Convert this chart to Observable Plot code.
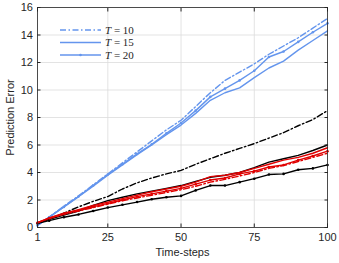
<!DOCTYPE html>
<html><head>
<meta charset="utf-8">
<script src="https://cdn.jsdelivr.net/npm/d3@7"></script>
<script src="https://cdn.jsdelivr.net/npm/@observablehq/plot@0.6"></script>
<style>
body{margin:0;background:#fff}
#chart svg{font-family:"Liberation Sans",Arial,sans-serif}
</style>
</head><body><div id="chart"></div>
<script>
const steps = [1,5,10,15,20,25,30,35,40,45,50,55,60,65,70,75,80,85,90,95,100];
const blueT10 = [0.15,0.75,1.55,2.3,3.1,3.9,4.7,5.5,6.3,7.1,7.8,8.8,9.8,10.7,11.3,11.9,12.6,13.2,13.8,14.5,15.2];
const blueT15 = [0.15,0.75,1.5,2.25,3.0,3.8,4.55,5.3,6.0,6.75,7.45,8.3,9.25,9.8,10.15,10.9,11.6,12.1,12.9,13.6,14.3];
const blueT20 = [0.15,0.75,1.5,2.25,3.05,3.85,4.6,5.35,6.05,6.85,7.6,8.5,9.5,10.1,10.7,11.4,12.4,12.8,13.5,14.2,14.85];
const blackT10 = [0.3,0.6,1.05,1.5,1.9,2.25,2.8,3.25,3.6,3.9,4.15,4.6,5.0,5.4,5.75,6.1,6.5,6.9,7.4,7.85,8.5];
const blackT15 = [0.3,0.6,0.9,1.2,1.6,1.95,2.2,2.45,2.65,2.85,3.05,3.35,3.65,3.8,4.0,4.35,4.75,5.0,5.25,5.6,6.0];
const blackT20 = [0.3,0.5,0.75,0.95,1.2,1.45,1.65,1.85,2.05,2.2,2.3,2.7,3.05,3.05,3.3,3.55,3.85,3.9,4.2,4.3,4.55];
const redT10 = [0.35,0.65,0.95,1.2,1.45,1.7,1.95,2.15,2.35,2.55,2.75,3.0,3.3,3.5,3.75,4.0,4.3,4.5,4.8,5.1,5.4];
const redT15 = [0.35,0.7,1.05,1.3,1.6,1.85,2.1,2.35,2.6,2.8,3.0,3.3,3.7,3.8,4.0,4.3,4.6,4.9,5.1,5.4,5.8];
const redT20 = [0.35,0.68,1.0,1.25,1.5,1.75,2.0,2.25,2.45,2.65,2.85,3.15,3.45,3.6,3.9,4.1,4.4,4.55,4.9,5.2,5.55];
const legendLabels = ["10","15","20"];
const xTicks = [1,25,50,75,100];
const yTicks = [0,2,4,6,8,10,12,14,16];

const BLUE = "#6495ed", BLACK = "#000", RED = "#e00000";
const DASHDOT = "6,2.5,1.5,2.5";
const series = [
  {v: blueT10, c: BLUE, dash: DASHDOT, m: false},
  {v: blueT15, c: BLUE, dash: null, m: false},
  {v: blueT20, c: BLUE, dash: null, m: true},
  {v: blackT10, c: BLACK, dash: DASHDOT, m: false},
  {v: blackT15, c: BLACK, dash: null, m: false},
  {v: blackT20, c: BLACK, dash: null, m: true},
  {v: redT10, c: RED, dash: DASHDOT, m: false},
  {v: redT15, c: RED, dash: null, m: false},
  {v: redT20, c: RED, dash: null, m: true},
];
const marks = [
  Plot.gridX(xTicks, {stroke: "#dcdcdc", strokeOpacity: 1, strokeWidth: 0.8}),
  Plot.gridY(yTicks, {stroke: "#dcdcdc", strokeOpacity: 1, strokeWidth: 0.8}),
];
for (const s of series) {
  const rows = steps.map((t, i) => ({t, y: s.v[i]}));
  marks.push(Plot.line(rows, {x: "t", y: "y", stroke: s.c, strokeWidth: 1.4, strokeDasharray: s.dash}));
  if (s.m) marks.push(Plot.dot(rows, {x: "t", y: "y", fill: s.c, r: 1.3}));
}
marks.push(
  Plot.frame({stroke: "#262626", strokeWidth: 0.8}),
  Plot.axisX(xTicks, {anchor: "bottom", tickSize: -3.5, tickPadding: 9, fontSize: 11,
    label: "Time-steps", labelAnchor: "center", labelArrow: "none", labelOffset: 28}),
  Plot.axisX(xTicks, {anchor: "top", tickSize: -3.5, tickFormat: () => "", label: null}),
  Plot.axisY(yTicks, {anchor: "left", tickSize: -3.5, tickPadding: 8, fontSize: 11,
    label: "Prediction Error", labelAnchor: "center", labelArrow: "none", labelOffset: 31}),
  Plot.axisY(yTicks, {anchor: "right", tickSize: -3.5, tickFormat: () => "", label: null})
);
const chart = Plot.plot({
  width: 339, height: 263,
  marginLeft: 37, marginRight: 12, marginTop: 7, marginBottom: 36,
  style: {fontSize: "11px", fontFamily: "'Liberation Sans', Arial, sans-serif", color: "#262626", background: "#fff"},
  x: {domain: [1, 100]},
  y: {domain: [0, 16]},
  marks
});
document.getElementById("chart").appendChild(chart);

// legend inside the plot (top-left)
const svg = d3.select(chart);
const lg = svg.append("g");
const legendStyles = [DASHDOT, null, null];
legendLabels.forEach((lab, i) => {
  const y = 30 + i * 12.5;
  lg.append("line").attr("x1", 60).attr("x2", 101).attr("y1", y).attr("y2", y)
    .attr("stroke", BLUE).attr("stroke-width", 1.4).attr("stroke-dasharray", legendStyles[i]);
  if (i === 2) lg.append("circle").attr("cx", 80.5).attr("cy", y).attr("r", 1.3).attr("fill", BLUE);
  const t = lg.append("text").attr("x", 105).attr("y", y + 3.8).attr("text-anchor", "start")
    .attr("font-family", "'Liberation Serif','DejaVu Serif',serif").attr("font-size", 11).attr("fill", "#262626");
  t.append("tspan").attr("font-style", "italic").text("T");
  t.append("tspan").text(" = " + lab);
});
</script>
</body></html>
